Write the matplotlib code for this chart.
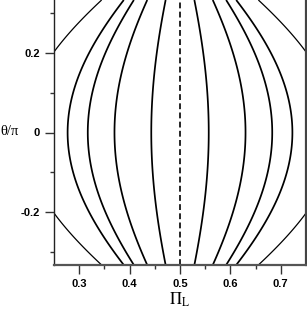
import numpy as np
import matplotlib.pyplot as plt

# contour levels: half-width of each curve at theta = 0 (distance from Pi_L = 0.5)
levels_half = [0.057, 0.130, 0.183, 0.223, 0.311]
thin_level = 0.311

xlim = (0.25, 0.75)
ylim = (-1/3, 1/3)
xticks = [0.3, 0.4, 0.5, 0.6, 0.7]
yticks = [-0.2, 0.0, 0.2]
ytick_labels = ["-0.2", "0", "0.2"]


fig = plt.figure(figsize=(3.07, 3.13), dpi=100)
ax = fig.add_axes([54/307, 48/313, 252/307, 265/313])

pi_l = np.linspace(xlim[0], xlim[1], 600)
theta = np.linspace(ylim[0], ylim[1], 600)
PI, TH = np.meshgrid(pi_l, theta)
Z = (PI - 0.5) / np.cos(np.pi*TH)

thick = sorted([-d for d in levels_half if d != thin_level] + [d for d in levels_half if d != thin_level])
ax.contour(PI, TH, Z, levels=thick, colors="k", linewidths=1.25, linestyles="solid")
ax.contour(PI, TH, Z, levels=[-thin_level, thin_level], colors="k", linewidths=0.9, linestyles="solid")

ax.axvline(0.5, color="k", lw=1.2, ls=(0, (3.5, 2)))

ax.set_xlim(*xlim)
ax.set_ylim(*ylim)

ax.set_xticks(xticks)
ax.set_xticklabels([str(t) for t in xticks])
ax.set_xticks(np.arange(0.35, 0.75, 0.1), minor=True)
ax.set_yticks(yticks)
ax.set_yticklabels(ytick_labels)
ax.set_yticks([-0.3, -0.1, 0.1, 0.3], minor=True)

for lab in ax.get_xticklabels() + ax.get_yticklabels():
  lab.set_fontfamily("Liberation Sans")
  lab.set_fontweight("bold")
  lab.set_fontsize(8)

ax.tick_params(which="major", direction="out", length=6.5, width=1, color="#333333", pad=3.5)
ax.tick_params(which="minor", direction="out", length=3, width=1, color="#333333")

ax.spines["left"].set_linewidth(1.0)
ax.spines["left"].set_color("#222222")
ax.spines["bottom"].set_linewidth(1.6)
ax.spines["bottom"].set_color("#555555")
ax.spines["right"].set_linewidth(1.6)
ax.spines["right"].set_color("#444444")
ax.spines["top"].set_visible(False)

fig.text(0/307, 1-132/313, "θ/π", fontsize=10.5, family=["Liberation Serif", "DejaVu Serif"],
         ha="left", va="center")
fig.text(180/307, 1-300/313, r"$\Pi_{\mathrm{L}}$", fontsize=12,
         ha="center", va="center", math_fontfamily="stix")

fig.savefig("out.png", dpi=100)
